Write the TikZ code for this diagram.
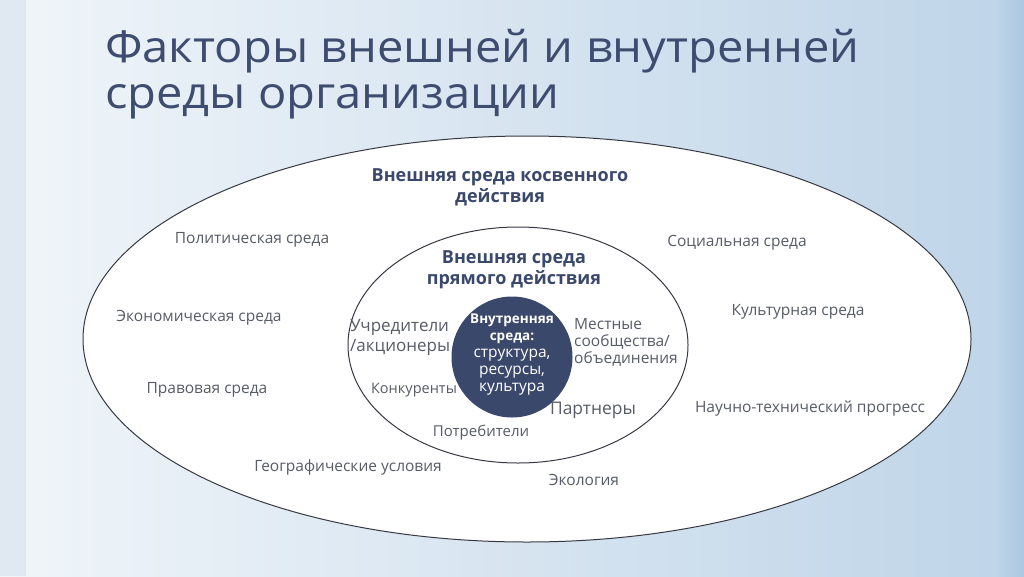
\documentclass[tikz,border=0pt]{standalone}
\usepackage{fontspec}
\setmainfont{Open Sans}
\usetikzlibrary{shapes.geometric}
\definecolor{bgL}{RGB}{240,245,249}
\definecolor{bgM}{RGB}{228,237,245}
\definecolor{bgR}{RGB}{190,212,232}
\definecolor{edgeR}{RGB}{170,199,225}
\definecolor{edgeL}{RGB}{224,233,241}
\definecolor{navy}{RGB}{58,72,108}
\definecolor{titlec}{RGB}{62,76,112}
\definecolor{lbl}{RGB}{88,92,102}
\definecolor{linec}{RGB}{55,57,66}
\tikzset{
  lab/.style={text=lbl, font=\fontsize{15.5}{18}\selectfont, inner sep=0pt},
  inlab/.style={text=lbl, font=\fontsize{15}{18}\selectfont, inner sep=0pt},
  head/.style={text=navy, font=\bfseries\fontsize{18}{21}\selectfont, align=center, inner sep=0pt},
  ring/.style={draw=linec, line width=1pt, fill=white},
  ttl/.style={anchor=base west, text=titlec, inner sep=0pt, font=\fontsize{44}{50}\selectfont},
}
\begin{document}
\begin{tikzpicture}[x=1pt,y=-1pt]
\useasboundingbox (0,0) rectangle (1024,576);
\shade[left color=bgL, middle color=bgM, right color=bgR] (0,0) rectangle (1024,576);
\fill[edgeL] (0,0) rectangle (26,576);
\shade[left color=bgR, right color=edgeR] (998,0) rectangle (1024,576);
% title
\node[ttl] (t1) at (105,62) {\scalebox{1.07}[1]{Факторы внешней и внутренней}};
\node[ttl] (t2) at (105,108) {\scalebox{1.07}[1]{среды организации}};
% ellipses
\node[ring, ellipse, minimum width=888, minimum height=406, inner sep=0pt] (outer) at (527,339) {};
\node[ring, ellipse, minimum width=340, minimum height=236, inner sep=0pt] (inner) at (518,345) {};
\node[circle, fill=navy, minimum size=121, inner sep=0pt] (core) at (512,357) {};
% headings
\node[head] (h1) at (500,187) {Внешняя среда косвенного\\действия};
\node[head] (h2) at (514,270) {Внешняя среда\\прямого действия};
\node[align=center, text=white, inner sep=0pt, font=\fontsize{15.5}{17}\selectfont] (c) at (512,355)
  {{\bfseries\fontsize{13.5}{17}\selectfont Внутренняя}\\{\bfseries\fontsize{13.5}{17}\selectfont среда:}\\структура,\\ресурсы,\\культура};
% outer labels
\node[lab] (pol) at (252,240) {Политическая среда};
\node[lab] (soc) at (737,243) {Социальная среда};
\node[lab] (eco) at (199,318) {Экономическая среда};
\node[lab] (cul) at (798,312) {Культурная среда};
\node[lab] (law) at (207,390) {Правовая среда};
\node[lab] (sci) at (810,408) {Научно-технический прогресс};
\node[lab] (geo) at (348,467) {Географические условия};
\node[lab] (ecol) at (584,480) {Экология};
% inner labels
\node[inlab, anchor=west, align=left, font=\fontsize{17}{20}\selectfont] (ucr) at (350,337) {Учредители\\/акционеры};
\node[inlab, anchor=west, align=left, font=\fontsize{15.5}{17}\selectfont] (loc) at (574,342) {Местные\\сообщества/\\объединения};
\node[inlab, font=\fontsize{14.5}{17}\selectfont] (kon) at (414,390) {Конкуренты};
\node[inlab, font=\fontsize{17.4}{20}\selectfont] (par) at (593,410) {Партнеры};
\node[inlab] (pot) at (481,433) {Потребители};
\end{tikzpicture}
\end{document}
